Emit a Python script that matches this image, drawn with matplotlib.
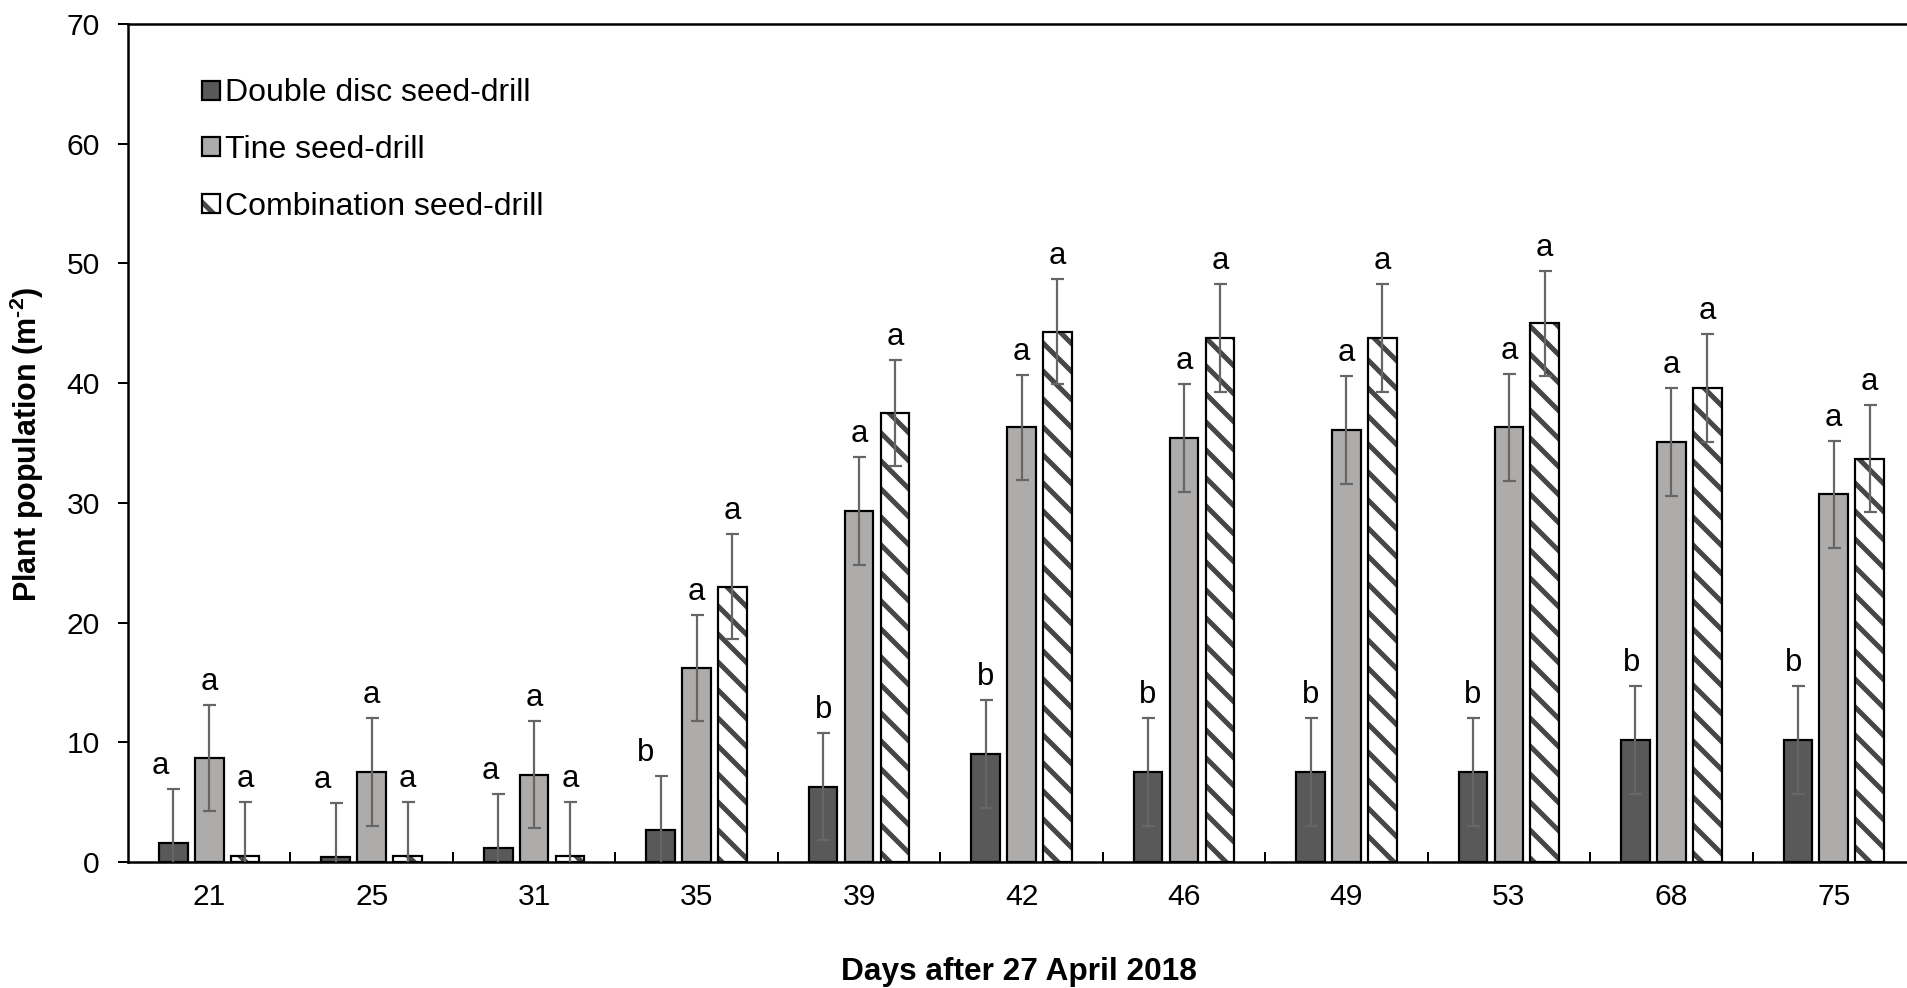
import numpy as np
import matplotlib
matplotlib.use('Agg')
import matplotlib.pyplot as plt
from matplotlib.patches import Patch

DPI = 84


def px(p):
    # convert a size in pixels to points at the figure dpi
    return p * 72.0 / DPI


# Plant population counts per sampling day
days = ['21', '25', '31', '35', '39', '42', '46', '49', '53', '68', '75']
double_disc = [1.6, 0.4, 1.2, 2.7, 6.3, 9.0, 7.5, 7.5, 7.5, 10.2, 10.2]
tine = [8.7, 7.5, 7.3, 16.2, 29.3, 36.3, 35.4, 36.1, 36.3, 35.1, 30.7]
combination = [0.5, 0.5, 0.5, 23.0, 37.5, 44.3, 43.8, 43.8, 45.0, 39.6, 33.7]

err_double = [4.5, 4.5, 4.5, 4.5, 4.5, 4.5, 4.5, 4.5, 4.5, 4.5, 4.5]
err_tine = [4.4, 4.5, 4.5, 4.4, 4.5, 4.4, 4.5, 4.5, 4.5, 4.5, 4.5]
err_comb = [4.5, 4.5, 4.5, 4.4, 4.4, 4.4, 4.5, 4.5, 4.4, 4.5, 4.5]

# significance letters
let_double = ['a', 'a', 'a', 'b', 'b', 'b', 'b', 'b', 'b', 'b', 'b']
let_tine = ['a'] * 11
let_comb = ['a'] * 11

plt.rcParams['font.family'] = ['Liberation Sans', 'DejaVu Sans']
plt.rcParams['hatch.linewidth'] = px(5)
plt.rcParams['mathtext.fontset'] = 'custom'
plt.rcParams['mathtext.rm'] = 'Liberation Sans:bold'
plt.rcParams['mathtext.bf'] = 'Liberation Sans:bold'

fig = plt.figure(figsize=(1907 / DPI, 988 / DPI), dpi=DPI)
ax = fig.add_axes([128 / 1907, 126 / 988, 1787 / 1907, 838 / 988])

x = np.arange(len(days))
step = 0.221
width = 0.176
edge_lw = px(2.2)
hatch_grey = '#474747'

ax.bar(x - step, double_disc, width, color='#595959', edgecolor='black', linewidth=edge_lw, zorder=2)
ax.bar(x, tine, width, color='#aeabab', edgecolor='black', linewidth=edge_lw, zorder=2)
# hatch drawn in grey underneath, black outline on top
ax.bar(x + step, combination, width, color='white', edgecolor=hatch_grey, hatch='\\', linewidth=0, zorder=2)
ax.bar(x + step, combination, width, fill=False, edgecolor='black', linewidth=edge_lw, zorder=3)

err_kw = dict(fmt='none', ecolor='#666666', elinewidth=px(2.2), capsize=px(6.5), capthick=px(2.2), zorder=4)
ax.errorbar(x - step, double_disc, yerr=err_double, **err_kw)
ax.errorbar(x, tine, yerr=err_tine, **err_kw)
ax.errorbar(x + step, combination, yerr=err_comb, **err_kw)

# the first few double-disc letters sit a little left of their bars
shift_double = [-13, -13, -8, -15, 0, 0, 0, 0, 0, -4, -4]
shift_none = [0] * 11
letter_fs = px(31)
for xs, vals, errs, lets, shifts in [(x - step, double_disc, err_double, let_double, shift_double),
                                     (x, tine, err_tine, let_tine, shift_none),
                                     (x + step, combination, err_comb, let_comb, shift_none)]:
    for xi, v, e, t, s in zip(xs, vals, errs, lets, shifts):
        ax.annotate(t, (xi, v + e), xytext=(px(s), px(15)), textcoords='offset points',
                    ha='center', va='baseline', fontsize=letter_fs, zorder=5)

ax.set_xlim(-0.5, len(days) - 0.5)
ax.set_ylim(0, 70)
ax.set_yticks(np.arange(0, 71, 10))

# group separators as inward ticks, day labels on untickmarked minor ticks
ax.set_xticks(np.arange(0.5, len(days) - 1, 1.0))
ax.set_xticklabels([])
ax.set_xticks(x, minor=True)
ax.set_xticklabels(days, minor=True)
ax.tick_params(axis='x', which='major', direction='in', length=px(10), width=px(2))
ax.tick_params(axis='x', which='minor', length=0, pad=px(21), labelsize=px(30))
ax.tick_params(axis='y', direction='out', length=px(10), width=px(2), pad=px(18), labelsize=px(30))

for s in ax.spines.values():
    s.set_linewidth(px(2.5))
    s.set_color('black')

handles = [Patch(facecolor='#595959', edgecolor='black', linewidth=edge_lw),
           Patch(facecolor='#aeabab', edgecolor='black', linewidth=edge_lw),
           (Patch(facecolor='white', edgecolor=hatch_grey, linewidth=0, hatch='\\'),
            Patch(fill=False, edgecolor='black', linewidth=edge_lw))]
labels = ['Double disc seed-drill', 'Tine seed-drill', 'Combination seed-drill']
ax.legend(handles, labels, loc='upper left', bbox_to_anchor=(0.0414, 0.935), frameon=False,
          fontsize=px(32), borderpad=0, borderaxespad=0, handlelength=0.55, handleheight=0.55,
          handletextpad=0.18, labelspacing=0.83)

fig.text(27 / 1907, 1 - 444 / 988, r'Plant population (m$^{\text{-2}}$)', rotation=90,
         ha='center', va='center', fontsize=px(30.5), fontweight='bold')
fig.text(1019 / 1907, 8 / 988, 'Days after 27 April 2018', ha='center', va='baseline',
         fontsize=px(31.7), fontweight='bold')

fig.savefig('out.png', dpi=DPI)
